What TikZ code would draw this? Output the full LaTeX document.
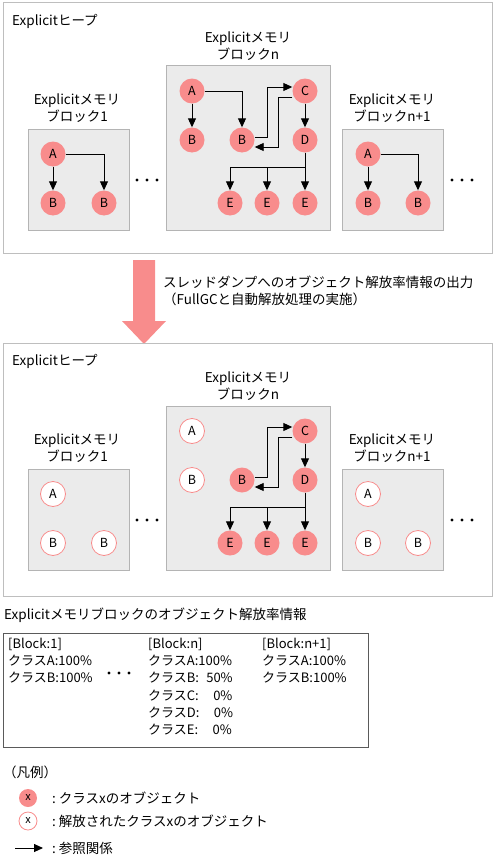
\documentclass[tikz,border=0pt]{standalone}
\usepackage{fontspec}
\setmainfont{Noto Sans CJK JP}
\usetikzlibrary{arrows.meta}
\definecolor{pinkc}{RGB}{248,140,140}
\definecolor{blkfill}{RGB}{235,235,235}
\definecolor{blkline}{RGB}{180,180,180}
\definecolor{heapline}{RGB}{190,190,190}
\definecolor{tabline}{RGB}{90,90,90}
\begin{document}
\begin{tikzpicture}[x=1pt,y=-1pt,
  heap/.style={draw=heapline,line width=1pt},
  blk/.style={draw=blkline,fill=blkfill,line width=1pt},
  obj/.style={circle,fill=pinkc,minimum size=25pt,inner sep=0pt,font=\fontsize{12.5}{12.5}\selectfont},
  freed/.style={obj,fill=white,draw=pinkc,line width=0.8pt},
  lobj/.style={obj,minimum size=18pt,font=\fontsize{11}{11}\selectfont},
  lfreed/.style={lobj,fill=white,draw=pinkc,line width=0.8pt},
  ref/.style={-{Triangle[length=9pt,width=8pt]},line width=0.9pt,black},
  lbl/.style={font=\fontsize{13.5}{17}\selectfont,inner sep=0pt},
  ttl/.style={lbl,align=center},
  tab/.style={font=\fontsize{13}{17.2}\selectfont,inner sep=0pt,align=left,anchor=north west},
  dot/.style={fill=black}]
\useasboundingbox (0,0) rectangle (497,859);

% ================= TOP HEAP =================
\draw[heap] (3,3) rectangle (492,253);
\node[lbl,anchor=west] (theap) at (12,21) {Explicitヒープ};

% block 1
\node[ttl] (t1title) at (77,108) {Explicitメモリ\\ブロック1};
\draw[blk] (28,129) rectangle (129,230);
\node[obj] (t1a) at (53,154) {A};
\node[obj] (t1b1) at (53,203) {B};
\node[obj] (t1b2) at (104,203) {B};
\draw[ref] (t1a) -- (t1b1);
\draw[ref] (t1a) -| (t1b2);

\foreach \x in {137,147,157} \fill[dot] (\x,180) circle (1.6pt);

% block n
\node[ttl] (tntitle) at (248,46) {Explicitメモリ\\ブロックn};
\draw[blk] (166,66) rectangle (330,230);
\node[obj] (tna) at (192,91) {A};
\node[obj] (tnb) at (192,140) {B};
\node[obj] (tnb2) at (242,140) {B};
\node[obj] (tnc) at (305,91) {C};
\node[obj] (tnd) at (305,140) {D};
\node[obj] (tne1) at (230,203) {E};
\node[obj] (tne2) at (267,203) {E};
\node[obj] (tne3) at (305,203) {E};
\draw[ref] (tna) -- (tnb);
\draw[ref] (tna) -| (tnb2);
\draw[ref] ([yshift=3pt]tnb2.east) -- ++(13,0) |- ([yshift=4pt]tnc.west);
\draw[ref] ([yshift=-6pt]tnc.west) -- ++(-13.5,0) |- ([yshift=-7pt]tnb2.east);
\draw[ref] (tnc) -- (tnd);
\coordinate (tnj) at (305,167);
\draw[ref] (tnd.south) -- (tne3.north);
\draw[ref] (tnj) -| (tne1.north);
\draw[ref] (tnj) -| (tne2.north);

% block n+1
\node[ttl] (tmtitle) at (392,108) {Explicitメモリ\\ブロックn+1};
\draw[blk] (342,129) rectangle (443,230);
\node[obj] (tma) at (368,154) {A};
\node[obj] (tmb1) at (368,203) {B};
\node[obj] (tmb2) at (418,203) {B};
\draw[ref] (tma) -- (tmb1);
\draw[ref] (tma) -| (tmb2);

\foreach \x in {452,462,472} \fill[dot] (\x,180) circle (1.6pt);

% ================= BIG ARROW =================
\fill[pinkc] (133,260) -- (155,260) -- (155,321) -- (166,321) -- (144,344) -- (122,321) -- (133,321) -- cycle;
\node[lbl,anchor=west] (arr1) at (163,282) {スレッドダンプへのオブジェクト解放率情報の出力};
\node[lbl,anchor=west] (arr2) at (163,299) {（FullGCと自動解放処理の実施）};

% ================= BOTTOM HEAP =================
\draw[heap] (3,343) rectangle (492,596);
\node[lbl,anchor=west] (bheap) at (12,361) {Explicitヒープ};

% block 1
\node[ttl] (b1title) at (77,448) {Explicitメモリ\\ブロック1};
\draw[blk] (28,469) rectangle (129,570);
\node[freed] (b1a) at (53,494) {A};
\node[freed] (b1b1) at (53,543) {B};
\node[freed] (b1b2) at (104,543) {B};

\foreach \x in {137,147,157} \fill[dot] (\x,520) circle (1.6pt);

% block n
\node[ttl] (bntitle) at (248,386) {Explicitメモリ\\ブロックn};
\draw[blk] (166,406) rectangle (330,570);
\node[freed] (bna) at (192,431) {A};
\node[freed] (bnb) at (192,480) {B};
\node[obj] (bnb2) at (242,480) {B};
\node[obj] (bnc) at (305,431) {C};
\node[obj] (bnd) at (305,480) {D};
\node[obj] (bne1) at (230,543) {E};
\node[obj] (bne2) at (267,543) {E};
\node[obj] (bne3) at (305,543) {E};
\draw[ref] ([yshift=3pt]bnb2.east) -- ++(13,0) |- ([yshift=4pt]bnc.west);
\draw[ref] ([yshift=-6pt]bnc.west) -- ++(-13.5,0) |- ([yshift=-7pt]bnb2.east);
\draw[ref] (bnc) -- (bnd);
\coordinate (bnj) at (305,507);
\draw[ref] (bnd.south) -- (bne3.north);
\draw[ref] (bnj) -| (bne1.north);
\draw[ref] (bnj) -| (bne2.north);

% block n+1
\node[ttl] (bmtitle) at (392,448) {Explicitメモリ\\ブロックn+1};
\draw[blk] (342,469) rectangle (443,570);
\node[freed] (bma) at (368,494) {A};
\node[freed] (bmb1) at (368,543) {B};
\node[freed] (bmb2) at (418,543) {B};

\foreach \x in {452,462,472} \fill[dot] (\x,520) circle (1.6pt);

% ================= TABLE =================
\node[lbl,anchor=west] (tabtitle) at (4,615) {Explicitメモリブロックのオブジェクト解放率情報};
\draw[draw=tabline,line width=1pt] (3,633) rectangle (368,747);
\node[tab] (col1) at (8,638) {[Block:1]\\クラスA:100\%\\クラスB:100\%};
\node[tab] (col2) at (148,638) {[Block:n]\\クラスA:100\%\\クラスB:\phantom{1}50\%\\クラスC:\phantom{10}0\%\\クラスD:\phantom{10}0\%\\クラスE:\phantom{10}0\%};
\node[tab] (col3) at (262,638) {[Block:n+1]\\クラスA:100\%\\クラスB:100\%};
\foreach \x in {109,119,129} \fill[dot] (\x,673) circle (1.6pt);

% ================= LEGEND =================
\node[lbl,anchor=west] (leg) at (3,772) {（凡例）};
\node[lobj] (legobj) at (28,798) {x};
\node[lbl,anchor=west] (legobjt) at (52,798) {:\hspace{3pt}クラスxのオブジェクト};
\node[lfreed] (legfreed) at (28,821) {x};
\node[lbl,anchor=west] (legfreedt) at (52,821) {:\hspace{3pt}解放されたクラスxのオブジェクト};
\coordinate (legas) at (15,848);
\coordinate (legae) at (43,848);
\draw[ref] (legas) -- (legae);
\node[lbl,anchor=west] (legarrt) at (52,848) {:\hspace{3pt}参照関係};
\end{tikzpicture}
\end{document}
